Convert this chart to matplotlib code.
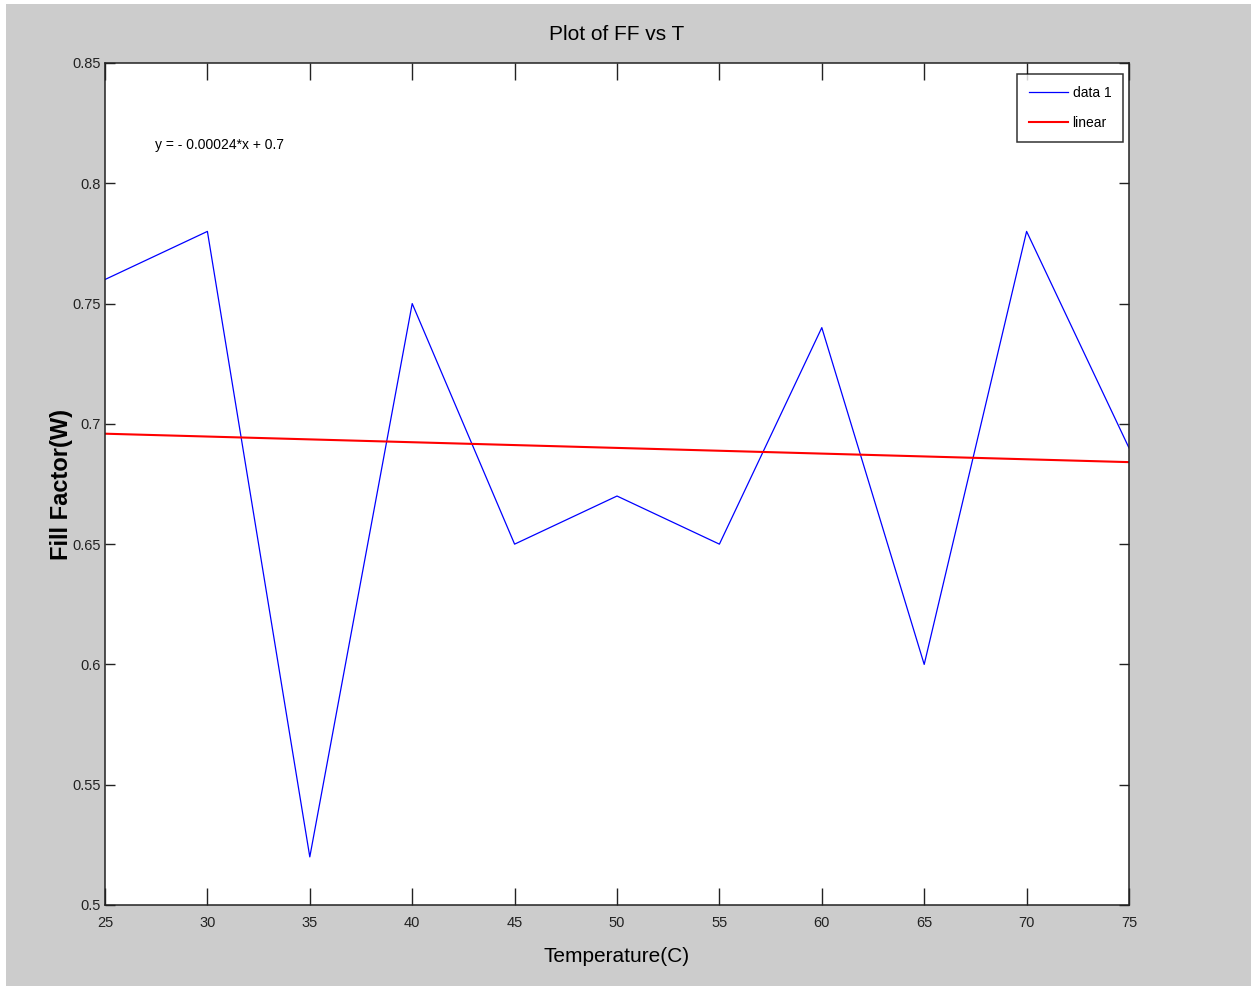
import numpy as np
import matplotlib
matplotlib.use("Agg")
import matplotlib.pyplot as plt
from matplotlib.patches import Rectangle

# ---- data ----
temperature = np.array([25, 30, 35, 40, 45, 50, 55, 60, 65, 70, 75])
fill_factor = np.array([0.76, 0.78, 0.52, 0.75, 0.65, 0.67, 0.65, 0.74, 0.60, 0.78, 0.69])
x_ticks = [25, 30, 35, 40, 45, 50, 55, 60, 65, 70, 75]
y_ticks = [0.5, 0.55, 0.6, 0.65, 0.7, 0.75, 0.8, 0.85]
y_tick_labels = ["0.5", "0.55", "0.6", "0.65", "0.7", "0.75", "0.8", "0.85"]
fit_label = "y = - 0.00024*x + 0.7"

# linear fit through the measured points
slope, intercept = np.polyfit(temperature, fill_factor, 1)
fit_line = slope * temperature + intercept

plt.rcParams["font.family"] = "Liberation Sans"

W, H = 1251, 986
fig = plt.figure(figsize=(W / 100, H / 100), dpi=100, facecolor="white")
# grey figure panel, leaving a thin white strip on the top and left
fig.patches.append(Rectangle((6 / W, 0), 1 - 6 / W, 1 - 4 / H,
                             transform=fig.transFigure, facecolor="#cccccc",
                             edgecolor="none", zorder=-10))

ax = fig.add_axes([105 / W, 1 - 905 / H, (1129 - 105) / W, (905 - 63) / H])
ax.set_facecolor("white")

ax.plot(temperature, fill_factor, color="#0000ff", lw=0.9, label="data 1")
ax.plot(temperature, fit_line, color="#ff0000", lw=1.5, label="linear")

ax.set_xlim(25, 75)
ax.set_ylim(0.5, 0.85)
ax.set_xticks(x_ticks)
ax.set_yticks(y_ticks)
ax.set_yticklabels(y_tick_labels)

ax.tick_params(axis="both", direction="in", top=True, right=True,
               labelsize=10.5, colors="#222222", width=1.0)
ax.tick_params(axis="x", length=12, pad=8)
ax.tick_params(axis="y", length=7, pad=3)
for s in ax.spines.values():
    s.set_linewidth(1.1)
    s.set_color("#222222")

ax.set_title("Plot of FF vs T", fontsize=15, pad=16.5)
ax.set_xlabel("Temperature(C)", fontsize=15, labelpad=12.5)
ax.set_ylabel("Fill Factor(W)", fontsize=17, fontweight="bold")
ax.yaxis.set_label_coords(-0.031, 0.5)

ax.text(27.44, 0.816, fit_label, fontsize=10, ha="left", va="center")

leg = ax.legend(loc="upper right", bbox_to_anchor=(0.9941, 0.9869),
                fontsize=10, frameon=True, fancybox=False, borderaxespad=0,
                handlelength=2.8, labelspacing=1.15, borderpad=0.85,
                handletextpad=0.35)
leg.get_frame().set_edgecolor("black")
leg.get_frame().set_linewidth(1.1)

fig.savefig("out.png", dpi=100, facecolor=fig.get_facecolor())
